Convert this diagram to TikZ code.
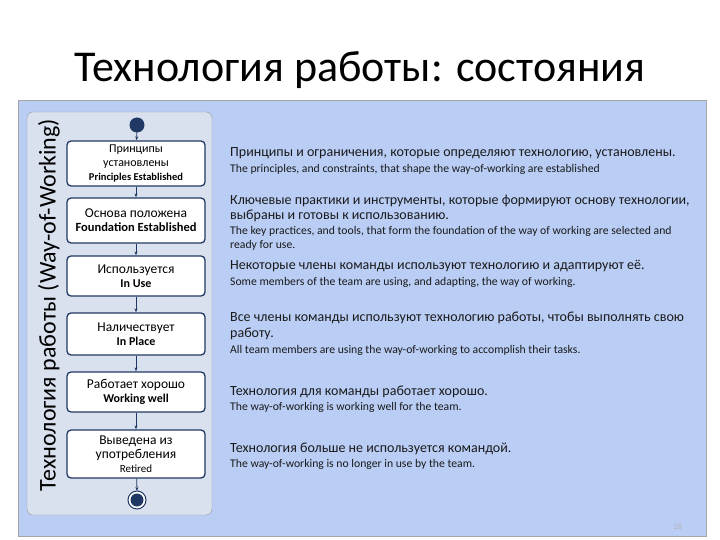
\documentclass[tikz,border=0pt]{standalone}
\usepackage{fontspec}
\setmainfont{Carlito}
\usetikzlibrary{arrows.meta}
\definecolor{panel}{HTML}{B9CDF5}
\definecolor{inner}{HTML}{D9E1EE}
\definecolor{navy}{HTML}{1F3864}
\definecolor{txt}{HTML}{1A1A1A}
\begin{document}
\begin{tikzpicture}[x=1pt,y=-1pt,
  st/.style={draw=navy,line width=1.3pt,fill=white,rounded corners=4pt,minimum width=138pt,align=center,inner sep=1pt,font=\fontsize{13.5}{14}\selectfont},
  ru/.style={anchor=west,font=\fontsize{14}{16}\selectfont,text=txt,inner sep=0},
  en/.style={anchor=west,font=\fontsize{11.7}{13}\selectfont,text=txt,inner sep=0},
  ar/.style={-{Stealth[length=4pt]},navy,line width=0.8pt}]
\useasboundingbox (0,0) rectangle (720,540);
\fill[white] (0,0) rectangle (720,540);
\node[font=\fontsize{44}{50}\selectfont] (title) at (360,70) {Технология работы: состояния};
\draw[gray!70,fill=panel] (18,100) rectangle (706,536);
\draw[gray!80,fill=inner,rounded corners=6pt] (27,112) rectangle (212,515);
\node[rotate=90,font=\fontsize{24}{28}\selectfont] (vt) at (49,305) {Технология работы (Way-of-Working)};
\fill[navy] (137,125) circle (7.5) coordinate (s);
\node[st,minimum height=45pt] (b1) at (136,163.5) {\fontsize{12}{13}\selectfont Принципы\\\fontsize{12}{13}\selectfont установлены\\{\bfseries\fontsize{10.5}{11}\selectfont Principles Established}};
\node[st,minimum height=45pt] (b2) at (136,220.5) {Основа положена\\{\bfseries\fontsize{12.5}{14}\selectfont Foundation Established}};
\node[st,minimum height=40pt] (b3) at (136,276) {Используется\\{\bfseries\fontsize{12}{14}\selectfont In Use}};
\node[st,minimum height=42pt] (b4) at (136,334) {Наличествует\\{\bfseries\fontsize{12}{14}\selectfont In Place}};
\node[st,minimum height=40pt] (b5) at (136,392) {Работает хорошо\\{\bfseries\fontsize{12}{14}\selectfont Working well}};
\node[st,minimum height=48pt] (b6) at (136,454) {Выведена из\\употребления\\{\fontsize{11}{12}\selectfont Retired}};
\draw[navy,line width=1pt,fill=white] (137,500) circle (9);
\fill[navy] (137,500) circle (6.5);
\coordinate (e) at (137,491);
\draw[ar] (s) -- (b1);
\draw[ar] (b1) -- (b2);
\draw[ar] (b2) -- (b3);
\draw[ar] (b3) -- (b4);
\draw[ar] (b4) -- (b5);
\draw[ar] (b5) -- (b6);
\draw[ar] (b6) -- (e);
\node[ru] (t1) at (230,153) {Принципы и ограничения, которые определяют технологию, установлены.};
\node[en] (t1e) at (230,169) {The principles, and constraints, that shape the way-of-working are established};
\node[ru] (t2) at (230,201) {Ключевые практики и инструменты, которые формируют основу технологии,};
\node[ru] (t2b) at (230,216) {выбраны и готовы к использованию.};
\node[en] (t2e) at (230,231) {The key practices, and tools, that form the foundation of the way of working are selected and};
\node[en] (t2f) at (230,245) {ready for use.};
\node[ru] (t3) at (230,266) {Некоторые члены команды используют технологию и адаптируют её.};
\node[en] (t3e) at (230,282) {Some members of the team are using, and adapting, the way of working.};
\node[ru] (t4) at (230,318) {Все члены команды используют технологию работы, чтобы выполнять свою};
\node[ru] (t4b) at (230,334) {работу.};
\node[en] (t4e) at (230,350) {All team members are using the way-of-working to accomplish their tasks.};
\node[ru] (t5) at (230,392) {Технология для команды работает хорошо.};
\node[en] (t5e) at (230,407) {The way-of-working is working well for the team.};
\node[ru] (t6) at (230,449) {Технология больше не используется командой.};
\node[en] (t6e) at (230,464) {The way-of-working is no longer in use by the team.};
\node[font=\fontsize{8}{9}\selectfont,text=gray!60] (pg) at (678,527) {28};
\end{tikzpicture}
\end{document}
